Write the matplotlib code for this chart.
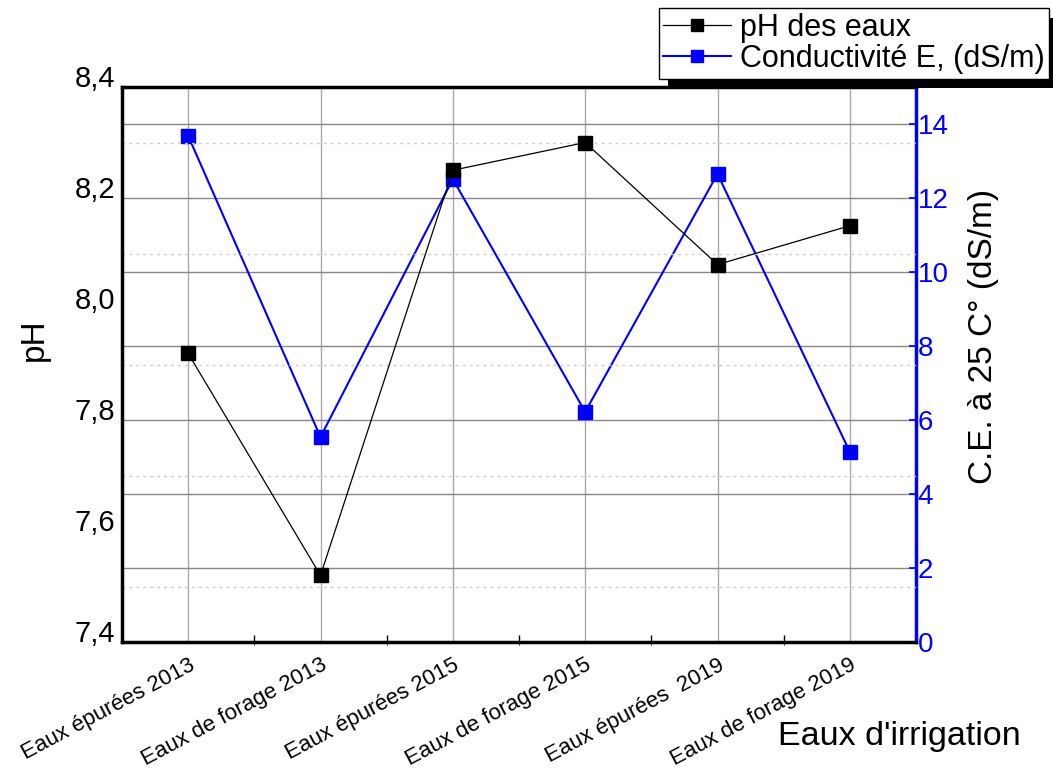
import matplotlib
matplotlib.use("Agg")
import matplotlib.pyplot as plt
from matplotlib.ticker import FixedLocator, FuncFormatter
import matplotlib.patheffects as pe

plt.rcParams['font.family'] = ['Liberation Sans', 'DejaVu Sans']

categories = ["Eaux épurées 2013", "Eaux de forage 2013", "Eaux épurées 2015",
              "Eaux de forage 2015", "Eaux épurées  2019", "Eaux de forage 2019"]
ph_values = [7.92, 7.52, 8.25, 8.30, 8.08, 8.15]
ce_values = [13.68, 5.54, 12.51, 6.22, 12.65, 5.14]
ph_ticks = [7.4, 7.6, 7.8, 8.0, 8.2, 8.4]
ph_minor = [7.5, 7.7, 7.9, 8.1, 8.3]
ce_ticks = [0, 2, 4, 6, 8, 10, 12, 14]

fig = plt.figure(figsize=(10.53, 7.72), dpi=100)
ax1 = fig.add_axes([122/1053, 1-642/772, (916-122)/1053, (642-87)/772])
ax2 = ax1.twinx()
ax1.set_zorder(2)
ax1.patch.set_visible(False)
ax2.set_zorder(1)

x = list(range(len(categories)))

# right axis (CE)
ax2.set_ylim(0, 15)
ax2.yaxis.set_major_locator(FixedLocator(ce_ticks))
ax2.tick_params(axis='y', colors='blue', labelsize=20, direction='in', length=5, width=1.2, pad=1)
ax2.yaxis.grid(True, color='#888888', linewidth=1.0)
ax2.xaxis.set_visible(True)
ax2.tick_params(axis='x', bottom=False, top=False, labelbottom=False, labeltop=False)
ax2.xaxis.grid(True, color='#aaaaaa', linewidth=1.0)
ax2.set_ylabel("C.E. à 25 C° (dS/m)", fontsize=24, labelpad=14)
ax2.yaxis.label.set_y(0.55)
l2, = ax2.plot(x, ce_values, color='blue', linewidth=1.5, marker='s', markersize=9.5,
               markerfacecolor='blue', markeredgecolor='blue', label="Conductivité E, (dS/m)")

# left axis (pH)
ax1.set_xlim(-0.5, 5.5)
ax1.set_ylim(7.4, 8.4)
ax1.yaxis.set_major_locator(FixedLocator(ph_ticks))
ax1.yaxis.set_minor_locator(FixedLocator(ph_minor))
ax1.yaxis.set_major_formatter(FuncFormatter(lambda v, p: f"{v:.1f}".replace('.', ',')))
ax1.tick_params(axis='y', which='major', labelsize=21, direction='in', length=0, pad=5)
ax1.tick_params(axis='y', which='minor', length=0)
for t in ax1.get_yticklabels():
    t.set_verticalalignment('baseline')
ax1.yaxis.grid(True, which='minor', color='#cccccc', linestyle=(0, (2, 3)), linewidth=1.0)
ax1.set_xticks(x)
ax1.set_xticklabels(categories, rotation=28, ha='right', rotation_mode='anchor', fontsize=16)
ax1.xaxis.set_minor_locator(FixedLocator([0.5, 1.5, 2.5, 3.5, 4.5]))
ax1.tick_params(axis='x', which='major', length=0, pad=9)
ax1.tick_params(axis='x', which='minor', direction='in', length=5, width=1)
ax1.set_ylabel("pH", fontsize=24, labelpad=18)
ax1.yaxis.label.set_y(0.545)
l1, = ax1.plot(x, ph_values, color='black', linewidth=0.9, marker='s', markersize=9.5,
               markerfacecolor='black', markeredgecolor='black', label="pH des eaux")

for sp in ['left', 'bottom', 'top']:
    ax1.spines[sp].set_linewidth(2.5)
ax1.spines['right'].set_visible(False)
for sp in ['left', 'bottom', 'top']:
    ax2.spines[sp].set_visible(False)
ax2.spines['right'].set_color('blue')
ax2.spines['right'].set_linewidth(2.5)

fig.text(899/1053, 1-737/772, "Eaux d'irrigation", fontsize=24.5, ha='center', va='center')

leg = fig.legend(handles=[l1, l2], loc='upper right', bbox_to_anchor=(1049/1053, 1-8/772),
                 fontsize=22, frameon=True, fancybox=False, framealpha=1,
                 edgecolor='black', borderpad=0.15, labelspacing=0.05, handlelength=2.2,
                 handletextpad=0.3, borderaxespad=0, markerscale=0.9)
frame = leg.get_frame()
frame.set_linewidth(1.0)
frame.set_path_effects([pe.SimplePatchShadow(offset=(6.5, -7), shadow_rgbFace='black', alpha=1.0),
                        pe.Normal()])
leg.set_zorder(10)

fig.savefig("out.png", dpi=100)
